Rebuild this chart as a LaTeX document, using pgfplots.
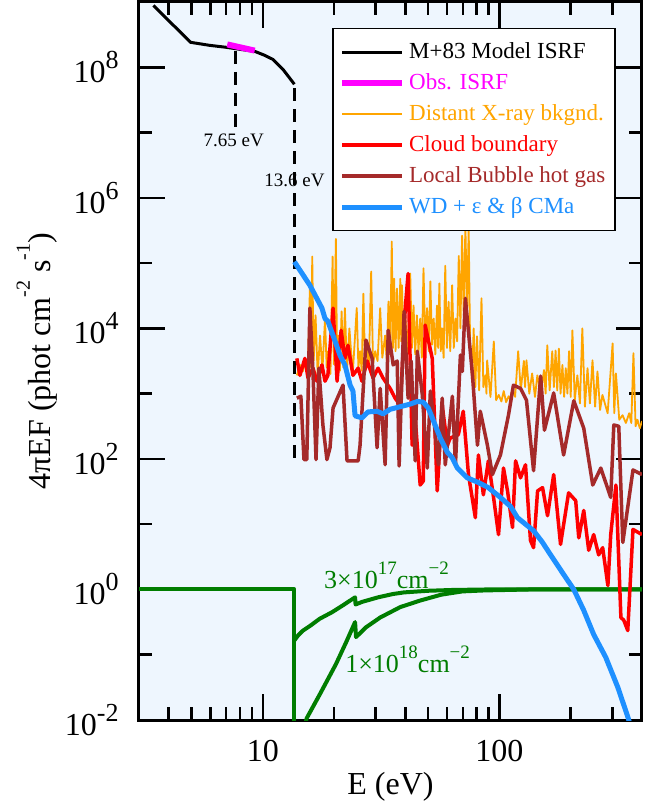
\documentclass[border=0pt]{standalone}
\usepackage{fontspec}
\setmainfont{Liberation Serif}
\usepackage{pgfplots}
\pgfplotsset{compat=1.18}
\definecolor{bgblue}{RGB}{238,246,254}
\definecolor{xorange}{RGB}{255,165,0}
\definecolor{cbred}{RGB}{255,0,0}
\definecolor{lbbrown}{RGB}{165,42,42}
\definecolor{wdblue}{RGB}{30,144,255}
\definecolor{isrfmag}{RGB}{255,0,255}
\definecolor{dgreen}{RGB}{0,125,0}
\newcommand{\tsup}[1]{\raisebox{7pt}{\fontsize{13}{13}\selectfont #1}}
\newcommand{\lsup}[1]{\raisebox{0.65em}{\fontsize{10}{10}\selectfont #1}}
\newcommand{\gsup}[1]{\raisebox{7pt}{\fontsize{9.5}{9.5}\selectfont #1}}
\begin{document}
\begin{tikzpicture}
\begin{axis}[
 scale only axis, width=251.5pt, height=359pt,
 xmin=0.4771, xmax=2.6021, ymin=-2, ymax=9,
 axis background/.style={fill=bgblue},
 axis line style={line width=1.5pt},
 every axis plot/.append style={line join=round},
 xtick={1,2}, xticklabels={10,100},
 minor xtick={0.6021,0.6990,0.7782,0.8451,0.9031,0.9542,1.3010,1.4771,1.6021,1.6990,1.7782,1.8451,1.9031,1.9542,2.3010,2.4771},
 ytick={-2,0,2,4,6,8},
 yticklabels={10\tsup{-2},10\tsup{0},10\tsup{2},10\tsup{4},10\tsup{6},10\tsup{8}},
 minor ytick={-1,1,3,5,7},
 tick align=inside, tick pos=both,
 major tick length=13pt, minor tick length=6.5pt,
 every tick/.style={black, line width=1.25pt},
 ticklabel style={font=\fontsize{16}{18}\selectfont},
 xticklabel style={anchor=north, inner sep=0pt, yshift=-10pt},
 yticklabel style={anchor=east, inner sep=0pt, xshift=-10pt},
 xlabel={E (eV)},
 ylabel={4πEF (phot cm\lsup{-2} s\lsup{-1})},
 label style={font=\fontsize{16}{18}\selectfont},
 xlabel style={at={(axis description cs:0.5,0)}, anchor=north, inner sep=0pt, yshift=-26pt},
 ylabel style={at={([xshift=-40.5pt]axis description cs:0,0.5)}, anchor=south, inner sep=0pt},
 legend style={at={(1,1)}, anchor=north east, xshift=-13pt, yshift=-13pt, draw=black, line width=0.75pt, fill=white, font=\fontsize{11.5}{13}\selectfont, row sep=2pt, inner xsep=3pt, inner ysep=5pt, cells={anchor=west}},
 legend image code/.code={\draw[#1] (0pt,0pt) -- (30pt,0pt);},
]
% green transmission curves
\addplot[dgreen, line width=2pt, forget plot] coordinates {(0.4771,0) (1.1335,0) (1.1335,-3)};
\addplot[dgreen, line width=2pt, forget plot] coordinates {
(1.1335,-0.78)(1.150,-0.70)(1.170,-0.63)(1.203,-0.55)(1.240,-0.45)(1.292,-0.35)(1.340,-0.24)(1.390,-0.12)
(1.392,-0.23)(1.420,-0.19)(1.488,-0.12)(1.550,-0.07)(1.597,-0.045)(1.700,-0.02)(1.800,-0.008)(1.950,0)(2.602,0)};
\addplot[dgreen, line width=2pt, forget plot] coordinates {
(1.178,-2.08)(1.186,-1.97)(1.242,-1.60)(1.309,-1.145)(1.352,-0.81)(1.390,-0.50)(1.394,-0.73)(1.436,-0.58)
(1.496,-0.43)(1.581,-0.27)(1.665,-0.17)(1.754,-0.08)(1.843,-0.03)(1.936,-0.015)(2.131,0)(2.602,0)};
% dashed edges
\addplot[black, line width=1.5pt, dash pattern=on 6.5pt off 4pt, forget plot] coordinates {(0.8837,8.25)(0.8837,6.98)};
\addplot[black, line width=1.5pt, dash pattern=on 6.5pt off 4pt, forget plot] coordinates {(1.1335,7.68)(1.1335,1.98)};
% M+83 model ISRF
\addplot[black, line width=1.5pt] coordinates {
(0.538,8.947)(0.695,8.382)(0.775,8.336)(0.847,8.305)(0.903,8.275)(0.966,8.244)(1.008,8.183)(1.042,8.122)(1.085,7.969)(1.1335,7.74)};
\addlegendentry{\textcolor{black}{M+83 Model ISRF}}
% observed ISRF
\addplot[isrfmag, line width=3pt] coordinates {(0.850,8.35)(0.966,8.255)};
\addlegendentry{\textcolor{isrfmag}{Obs. ISRF}}
% distant X-ray background
\addplot[xorange, line width=0.9pt] coordinates {
(1.144,3.28)(1.157,3.44)(1.169,3.34)(1.180,3.50)(1.190,3.30)(1.199,4.61)(1.204,3.40)(1.209,5.10)(1.215,3.50)
(1.223,4.20)(1.232,3.28)(1.242,3.89)(1.252,3.35)(1.263,4.15)(1.270,3.40)(1.277,3.65)(1.286,3.30)(1.295,5.10)
(1.300,3.45)(1.309,5.37)(1.314,3.40)(1.319,3.89)(1.326,3.35)(1.333,4.26)(1.340,3.40)(1.347,4.31)(1.356,3.35)
(1.366,4.00)(1.380,3.30)(1.397,4.31)(1.404,3.40)(1.411,3.65)(1.418,3.35)(1.425,4.53)(1.432,3.50)(1.439,3.74)
(1.448,3.40)(1.458,4.87)(1.466,3.45)(1.475,3.65)(1.485,3.50)(1.496,4.31)(1.505,3.55)(1.517,3.89)(1.524,3.50)
(1.531,4.41)(1.538,3.60)(1.545,5.33)(1.550,3.70)(1.555,4.76)(1.561,3.65)(1.567,4.61)(1.574,3.70)(1.581,4.76)
(1.585,3.80)(1.588,4.66)(1.595,3.65)(1.602,4.20)(1.612,3.60)(1.623,4.84)(1.630,3.70)(1.637,4.35)(1.644,3.60)
(1.651,4.20)(1.658,3.65)(1.665,4.15)(1.672,3.55)(1.679,4.92)(1.687,3.70)(1.694,4.31)(1.701,3.65)(1.708,4.72)
(1.715,3.75)(1.722,4.15)(1.729,3.60)(1.736,4.35)(1.741,3.70)(1.746,4.69)(1.752,3.65)(1.757,4.00)(1.764,3.55)
(1.771,4.96)(1.778,3.70)(1.785,4.41)(1.792,3.65)(1.800,4.66)(1.807,3.70)(1.814,4.15)(1.821,3.80)(1.828,5.11)
(1.835,4.00)(1.842,5.42)(1.849,4.20)(1.856,5.57)(1.863,4.30)(1.870,5.53)(1.876,3.70)(1.884,3.20)(1.891,4.00)
(1.898,3.10)(1.905,3.88)(1.914,3.05)(1.924,4.46)(1.932,3.10)(1.941,3.28)(1.945,3.00)(1.948,3.51)(1.962,2.95)
(1.976,3.80)(1.986,2.90)(1.997,2.98)(2.008,2.88)(2.018,3.04)(2.028,2.87)(2.039,2.96)(2.046,2.90)(2.054,3.08)
(2.066,2.95)(2.079,3.65)(2.090,3.05)(2.103,3.50)(2.108,3.10)(2.114,3.51)(2.126,3.00)(2.138,3.31)(2.150,2.95)
(2.160,3.28)(2.175,3.00)(2.188,3.36)(2.195,3.00)(2.202,3.74)(2.212,3.05)(2.223,3.65)(2.230,3.10)(2.237,3.66)
(2.244,3.05)(2.251,3.69)(2.258,3.00)(2.266,3.44)(2.273,2.95)(2.280,3.39)(2.287,3.00)(2.294,3.65)(2.301,2.95)
(2.308,3.97)(2.318,2.90)(2.329,3.28)(2.340,2.85)(2.350,4.00)(2.361,2.80)(2.372,3.39)(2.382,2.85)(2.393,3.51)
(2.404,2.80)(2.414,3.34)(2.425,2.75)(2.435,2.98)(2.457,2.70)(2.478,3.77)(2.485,2.70)(2.492,3.31)(2.506,2.60)
(2.520,2.67)(2.534,2.55)(2.548,2.70)(2.557,2.55)(2.566,3.62)(2.575,2.50)(2.583,2.60)(2.593,2.47)(2.602,2.58)};
\addlegendentry{\textcolor{xorange}{Distant X-ray bkgnd.}}
% cloud boundary
\addplot[cbred, line width=1.75pt] coordinates {
(1.144,3.54)(1.157,3.28)(1.178,3.54)(1.191,3.24)(1.212,3.39)(1.229,3.19)(1.250,3.44)(1.263,3.19)(1.275,3.28)
(1.297,4.31)(1.314,3.19)(1.331,3.97)(1.347,3.54)(1.360,3.74)(1.381,3.28)(1.403,3.39)(1.419,3.19)(1.441,3.50)
(1.466,3.24)(1.487,3.39)(1.508,3.24)(1.538,3.08)(1.559,2.93)(1.581,2.82)(1.602,4.31)(1.614,4.84)(1.631,2.21)
(1.644,2.63)(1.665,1.60)(1.678,1.66)(1.686,4.05)(1.716,3.54)(1.737,1.51)(1.758,2.82)(1.780,2.21)(1.792,2.32)
(1.826,2.37)(1.847,2.73)(1.869,1.76)(1.898,1.10)(1.911,2.06)(1.932,1.45)(1.953,1.97)(1.975,1.41)(1.996,0.84)
(2.017,1.86)(2.034,1.51)(2.055,0.95)(2.068,1.97)(2.089,1.71)(2.110,1.91)(2.131,0.75)(2.144,0.64)(2.161,1.51)
(2.182,1.56)(2.203,1.13)(2.229,1.76)(2.258,0.69)(2.292,1.48)(2.322,1.36)(2.335,0.79)(2.356,1.21)(2.377,0.60)
(2.398,0.84)(2.419,0.53)(2.436,0.64)(2.458,0.06)(2.470,0.84)(2.492,1.60)(2.513,-0.43)(2.525,-0.47)(2.542,-0.63)
(2.564,0.92)(2.602,0.84)};
\addlegendentry{\textcolor{cbred}{Cloud boundary}}
% local bubble hot gas
\addplot[lbbrown, line width=1.75pt] coordinates {
(1.144,2.93)(1.161,2.96)(1.174,1.99)(1.186,1.99)(1.199,4.31)(1.212,3.34)(1.225,1.99)(1.237,3.39)(1.254,2.52)
(1.271,1.99)(1.284,2.17)(1.297,2.78)(1.339,3.13)(1.356,1.97)(1.403,1.97)(1.411,2.21)(1.436,3.82)(1.462,3.54)
(1.483,2.17)(1.496,3.08)(1.517,1.91)(1.530,3.97)(1.551,3.44)(1.568,3.50)(1.576,1.89)(1.597,4.26)(1.614,2.93)
(1.627,3.50)(1.644,1.97)(1.653,3.65)(1.674,2.98)(1.695,1.86)(1.708,3.04)(1.725,2.52)(1.742,1.91)(1.758,2.93)
(1.771,1.91)(1.801,2.96)(1.814,1.91)(1.835,3.59)(1.843,3.34)(1.856,4.46)(1.886,3.28)(1.907,2.21)(1.919,2.73)
(1.949,2.21)(1.970,1.76)(2.004,2.06)(2.038,2.67)(2.059,3.13)(2.089,3.08)(2.114,2.90)(2.144,1.82)(2.174,3.27)
(2.190,2.44)(2.229,3.01)(2.271,2.06)(2.314,2.89)(2.356,2.47)(2.394,1.60)(2.428,1.86)(2.470,1.41)(2.483,2.52)
(2.504,2.50)(2.521,0.72)(2.564,1.83)(2.602,1.76)};
\addlegendentry{\textcolor{lbbrown}{Local Bubble hot gas}}
% WD + eps & beta CMa
\addplot[wdblue, line width=2.5pt] coordinates {
(1.1335,5.02)(1.199,4.66)(1.250,4.31)(1.263,4.15)(1.275,4.11)(1.297,3.89)(1.326,3.59)(1.347,3.44)(1.369,3.13)
(1.381,3.04)(1.390,2.66)(1.419,2.63)(1.445,2.72)(1.483,2.73)(1.508,2.69)(1.538,2.76)(1.581,2.80)(1.623,2.84)
(1.653,2.88)(1.678,2.87)(1.699,2.78)(1.716,2.63)(1.750,2.32)(1.780,2.10)(1.800,2.02)(1.822,1.86)(1.864,1.71)
(1.910,1.64)(1.953,1.56)(2.004,1.41)(2.047,1.27)(2.076,1.10)(2.110,1.00)(2.144,0.90)(2.180,0.73)(2.216,0.53)
(2.271,0.23)(2.314,0.00)(2.356,-0.32)(2.398,-0.69)(2.449,-1.04)(2.500,-1.50)(2.542,-1.95)(2.550,-2.05)};
\addlegendentry{\textcolor{wdblue}{WD + ε \& β CMa}}
% annotations
\node[anchor=north, inner sep=0pt, font=\fontsize{9.5}{11}\selectfont] at (axis cs:0.877,6.98) {7.65 eV};
\node[anchor=base, inner sep=0pt, font=\fontsize{9.5}{11}\selectfont] at (axis cs:1.134,6.18) {13.6 eV};
\node[dgreen, anchor=base west, inner sep=0pt, font=\fontsize{13}{15}\selectfont] at (axis cs:1.258,0.02) {3×10\gsup{17}cm\gsup{−2}};
\node[dgreen, anchor=base west, inner sep=0pt, font=\fontsize{13}{15}\selectfont] at (axis cs:1.347,-1.267) {1×10\gsup{18}cm\gsup{−2}};
\end{axis}
\pgfresetboundingbox
\path ([xshift=-69.5pt,yshift=-42.5pt]current axis.south west) rectangle ([xshift=8.5pt,yshift=1pt]current axis.north east);
\end{tikzpicture}
\end{document}
